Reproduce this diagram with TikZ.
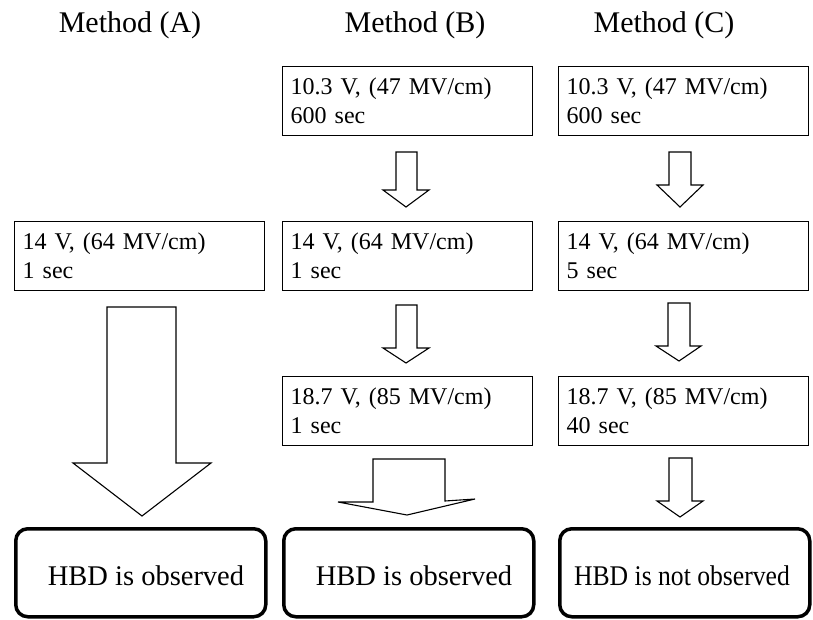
\documentclass[tikz,border=0pt]{standalone}
\usepackage{fontspec}
\setmainfont{Liberation Serif}
\begin{document}
\begin{tikzpicture}[x=1pt,y=-1pt,
  stepbox/.style={draw, line width=1.4pt, anchor=north west, inner xsep=8pt, inner ysep=0pt,
    text width=234pt, minimum height=69pt, align=left, font=\fontsize{24}{29}\selectfont},
  endbox/.style={draw, line width=3.5pt, rounded corners=12pt, anchor=north west,
    minimum width=250pt, minimum height=88pt, inner sep=0pt},
  endtext/.style={anchor=base, inner sep=0pt, font=\fontsize{28.5}{32}\selectfont},
  title/.style={anchor=base, inner sep=0pt, font=\fontsize{30}{34}\selectfont},
  barrow/.style={draw, line width=1.1pt, fill=white, line join=miter}]
\useasboundingbox (0,0) rectangle (813,619);

% titles
\node[title] (tA) at (130,32) {Method (A)};
\node[title] (tB) at (415,32) {Method (B)};
\node[title] (tC) at (664,32) {Method (C)};

% row 1
\node[stepbox] (b1) at (282,66) {10.3 V, (47 MV/cm)\\600 sec};
\node[stepbox] (c1) at (558,66) {10.3 V, (47 MV/cm)\\600 sec};

% row 2
\node[stepbox] (a2) at (14,221) {14 V, (64 MV/cm)\\1 sec};
\node[stepbox] (b2) at (282,221) {14 V, (64 MV/cm)\\1 sec};
\node[stepbox] (c2) at (558,221) {14 V, (64 MV/cm)\\5 sec};

% row 3
\node[stepbox] (b3) at (282,376) {18.7 V, (85 MV/cm)\\1 sec};
\node[stepbox] (c3) at (558,376) {18.7 V, (85 MV/cm)\\40 sec};

% bottom boxes
\node[endbox] (a4) at (14,527) {};
\node[endbox] (b4) at (282,527) {};
\node[endbox] (c4) at (558,527) {};
\node[endtext] (ta4) at (146,585) {HBD is observed};
\node[endtext] (tb4) at (414,585) {HBD is observed};
\node[endtext] (tc4) at (682,585) {\scalebox{0.9}[1]{HBD is not observed}};

% block arrows
\draw[barrow] (107,307) -- (176,307) -- (176,463) -- (211,463) -- (142,516) -- (73,463) -- (107,463) -- cycle;
\draw[barrow] (396,152) -- (417,152) -- (417,190) -- (429,190) -- (406,207) -- (383,190) -- (396,190) -- cycle;
\draw[barrow] (396,305) -- (417,305) -- (417,348) -- (429,348) -- (406,363) -- (383,348) -- (396,348) -- cycle;
\draw[barrow] (373,459) -- (445,459) -- (445,501) -- (475,499) -- (407,515) -- (338,502) -- (373,502) -- cycle;
\draw[barrow] (669,152) -- (691,152) -- (691,185) -- (703,185) -- (680,207) -- (657,185) -- (669,185) -- cycle;
\draw[barrow] (668,303) -- (690,303) -- (690,346) -- (701,346) -- (679,361) -- (656,346) -- (668,346) -- cycle;
\draw[barrow] (669,458) -- (692,458) -- (692,501) -- (703,501) -- (680,517) -- (657,501) -- (669,501) -- cycle;
\end{tikzpicture}
\end{document}
